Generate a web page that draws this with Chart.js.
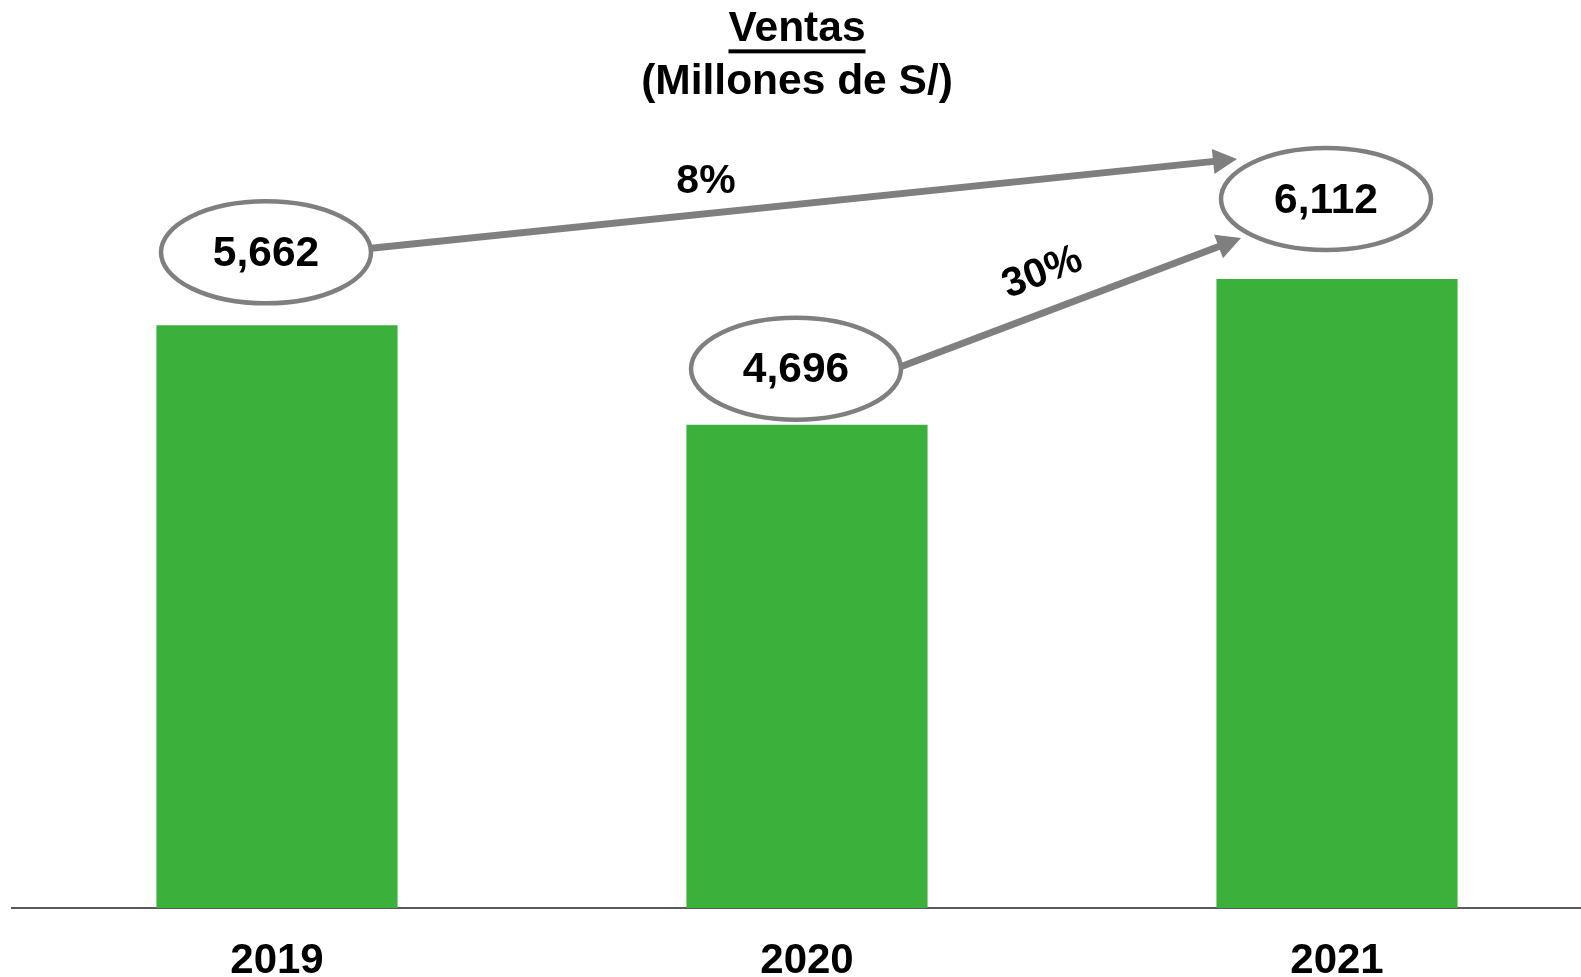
<!DOCTYPE html>
<html><head><meta charset="utf-8">
<script src="https://cdn.jsdelivr.net/npm/chart.js@4"></script>
<style>html,body{margin:0;padding:0;overflow:hidden;background:#fff}#wrap{width:1602px;height:1014px;position:relative}</style>
</head><body><div id="wrap"><canvas id="c"></canvas></div>
<script>
const categories = ['2019', '2020', '2021'];
const ventas = [5662, 4696, 6112];
const titleLines = ['Ventas', '(Millones de S/)'];
const growthPairs = [[0, 2], [1, 2]];

const FONT = '"Liberation Sans", Arial, Helvetica, sans-serif';
const GREEN = '#3BB03B';
const GREY = '#7F7F7F';
const TITLE_SIZE = 42.5;

// styling (pixel offsets for annotations, relative to bars drawn by the scales)
const bubbleLift = [73, 56, 80];
const bubbleShiftX = -11;
const bubbleRX = 105, bubbleRY = 51;
const arrowStyles = [
  { from: [105, -4], to: [-89, -40], label: [-98, -22], rot: 0 },
  { from: [102, -1], to: [-85, 39], label: [-27, -30], rot: -21 }
];
const TITLE_PAD_TOP = 3;

const annot = {
  id: 'annot',
  afterDatasetsDraw(chart) {
    const ctx = chart.ctx;
    const meta = chart.getDatasetMeta(0);
    const centers = meta.data.map((bar, i) => ({ x: bar.x + bubbleShiftX, y: bar.y - bubbleLift[i] }));
    ctx.save();
    growthPairs.forEach(([a, b], k) => {
      const st = arrowStyles[k];
      const x1 = centers[a].x + st.from[0], y1 = centers[a].y + st.from[1];
      const x2 = centers[b].x + st.to[0], y2 = centers[b].y + st.to[1];
      const ang = Math.atan2(y2 - y1, x2 - x1);
      const headLen = 24, headW = 12.5;
      const bx = x2 - headLen * Math.cos(ang), by = y2 - headLen * Math.sin(ang);
      ctx.strokeStyle = GREY; ctx.lineWidth = 7; ctx.lineCap = 'butt';
      ctx.beginPath(); ctx.moveTo(x1, y1); ctx.lineTo(bx + Math.cos(ang), by + Math.sin(ang)); ctx.stroke();
      ctx.fillStyle = GREY;
      ctx.beginPath(); ctx.moveTo(x2, y2);
      ctx.lineTo(bx + headW * Math.sin(ang), by - headW * Math.cos(ang));
      ctx.lineTo(bx - headW * Math.sin(ang), by + headW * Math.cos(ang));
      ctx.closePath(); ctx.fill();
      const g = Math.round((ventas[b] / ventas[a] - 1) * 100) + '%';
      const lx = (x1 + x2) / 2 + st.label[0], ly = (y1 + y2) / 2 + st.label[1];
      ctx.save(); ctx.translate(lx, ly); ctx.rotate(st.rot * Math.PI / 180);
      ctx.fillStyle = '#000'; ctx.font = 'bold 41px ' + FONT; ctx.textAlign = 'center'; ctx.textBaseline = 'middle';
      ctx.fillText(g, 0, 0); ctx.restore();
    });
    centers.forEach((c, i) => {
      ctx.beginPath(); ctx.ellipse(c.x, c.y, bubbleRX, bubbleRY, 0, 0, Math.PI * 2);
      ctx.fillStyle = '#fff'; ctx.fill();
      ctx.lineWidth = 4.5; ctx.strokeStyle = GREY; ctx.stroke();
      ctx.fillStyle = '#000'; ctx.font = 'bold 42.5px ' + FONT; ctx.textAlign = 'center'; ctx.textBaseline = 'middle';
      ctx.fillText(ventas[i].toLocaleString('en-US'), c.x, c.y + 2);
    });
    ctx.restore();
  },
  afterDraw(chart) {
    const ctx = chart.ctx;
    const tb = chart.titleBlock;
    if (!tb) return;
    ctx.save();
    ctx.font = 'bold ' + TITLE_SIZE + 'px ' + FONT;
    const w = ctx.measureText(titleLines[0]).width;
    const cx = (tb.left + tb.right) / 2;
    const lh = TITLE_SIZE * 1.24;
    const mid = tb.top + TITLE_PAD_TOP + lh / 2;
    ctx.fillStyle = '#000';
    ctx.fillRect(cx - w / 2, mid + 20, w, 4);
    ctx.restore();
  }
};

new Chart(document.getElementById('c'), {
  type: 'bar',
  data: {
    labels: categories,
    datasets: [{ data: ventas, backgroundColor: GREEN, borderWidth: 0, barPercentage: 0.455, categoryPercentage: 1 }]
  },
  options: {
    responsive: true,
    maintainAspectRatio: false,
    animation: false,
    layout: { padding: { left: -8, right: 0, top: 0, bottom: 0 } },
    plugins: {
      legend: { display: false },
      tooltip: { enabled: false },
      title: {
        display: true, text: titleLines, color: '#000',
        font: { family: FONT, size: TITLE_SIZE, weight: 'bold', lineHeight: 1.24 },
        padding: { top: TITLE_PAD_TOP, bottom: 0 }
      }
    },
    scales: {
      x: {
        grid: { display: false, drawTicks: false },
        border: { display: true, color: '#595959', width: 2 },
        ticks: { color: '#000', font: { family: FONT, size: 42, weight: 'bold', lineHeight: 1 }, padding: 32 }
      },
      y: {
        display: true, min: 0, max: 7770,
        grid: { display: false, drawTicks: false },
        border: { display: false },
        ticks: { display: false },
        afterFit(scale) { scale.width = 20; }
      }
    }
  },
  plugins: [annot]
});
</script>
</body></html>
